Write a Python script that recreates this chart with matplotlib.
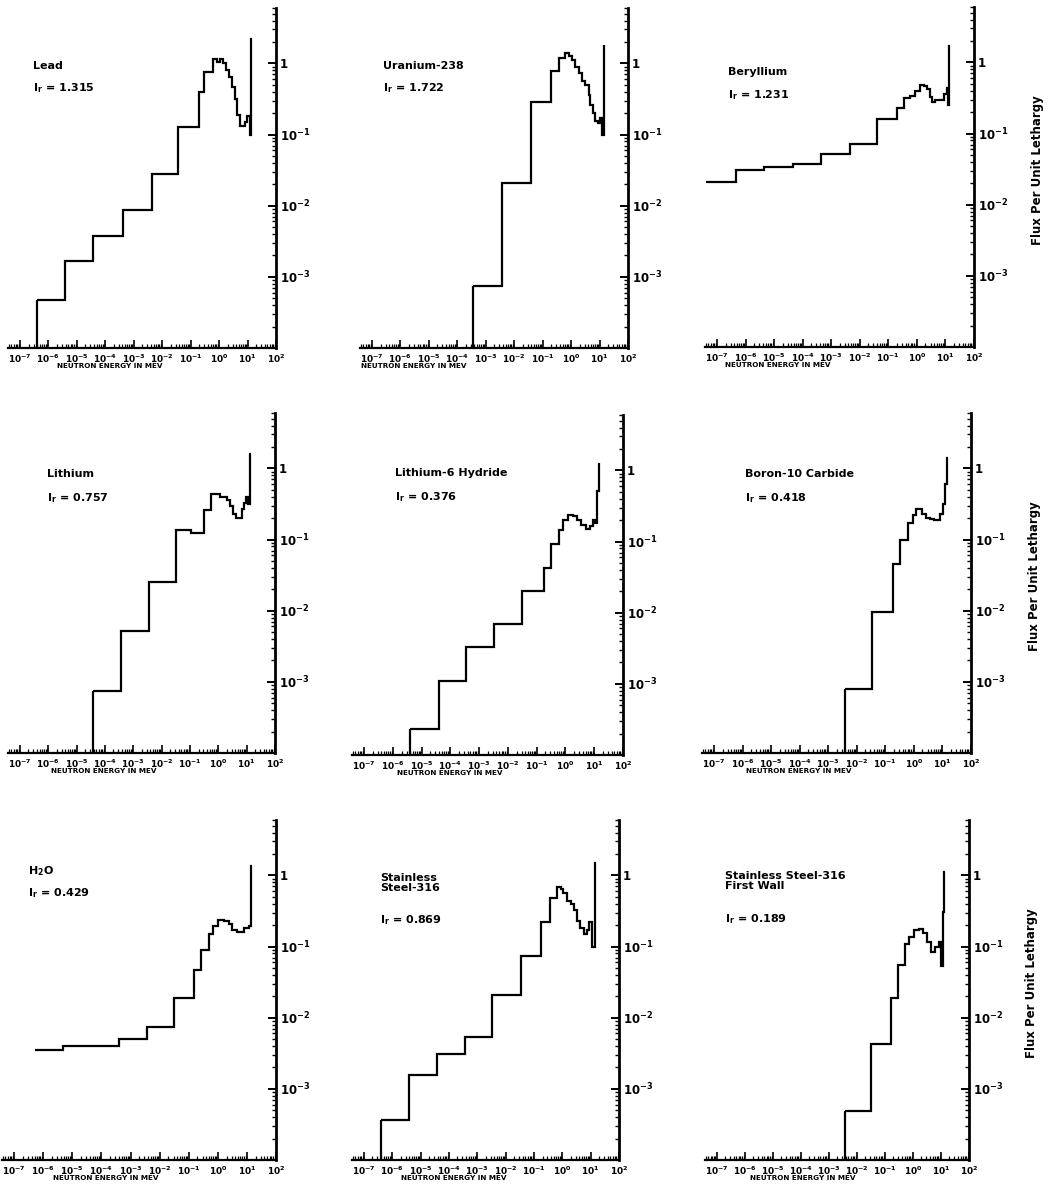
import numpy as np
import matplotlib
matplotlib.use("Agg")
import matplotlib.pyplot as plt
from matplotlib.ticker import FixedLocator, FixedFormatter, LogLocator, NullFormatter

plt.rcParams['font.family'] = ['DejaVu Sans']
plt.rcParams['font.weight'] = 'bold'
plt.rcParams['mathtext.default'] = 'bf'

# ---------------- data (log10 of energy-bin edges in MeV, flux per unit lethargy) -------------
titles = ["Lead", "Uranium-238", "Beryllium",
          "Lithium", "Lithium-6 Hydride", "Boron-10 Carbide",
          "H$_2$O", "Stainless\nSteel-316", "Stainless Steel-316\nFirst Wall"]
ir_values = ["1.315", "1.722", "1.231", "0.757", "0.376", "0.418", "0.429", "0.869", "0.189"]

lead_logE = [-6.39, -5.42, -4.42, -3.37, -2.37, -1.43, -0.70, -0.53, -0.20, -0.08, 0.03, 0.13,
             0.24, 0.36, 0.44, 0.56, 0.64, 0.74, 0.91, 0.99, 1.07, 1.12, 1.15]
lead_flux = [4.8e-4, 1.66e-3, 3.8e-3, 8.6e-3, 0.028, 0.128, 0.39, 0.76, 1.17, 1.06, 1.14, 1.0,
             0.81, 0.65, 0.47, 0.32, 0.19, 0.13, 0.15, 0.18, 0.10, 2.2]

u238_logE = [-3.46, -2.43, -1.41, -0.69, -0.43, -0.20, -0.08, 0.03, 0.15, 0.27, 0.39, 0.50,
             0.62, 0.68, 0.76, 0.85, 0.95, 1.02, 1.10, 1.14, 1.17]
u238_flux = [7.5e-4, 0.021, 0.29, 0.78, 1.2, 1.42, 1.28, 1.11, 0.90, 0.73, 0.56, 0.49,
             0.36, 0.26, 0.20, 0.155, 0.147, 0.17, 0.10, 1.8]

be_logE = [-7.38, -6.35, -5.35, -4.35, -3.35, -2.35, -1.41, -0.71, -0.44, -0.24, -0.06, 0.12,
           0.24, 0.35, 0.47, 0.53, 0.65, 0.82, 0.95, 1.05, 1.09, 1.13, 1.16]
be_flux = [0.021, 0.031, 0.034, 0.037, 0.051, 0.072, 0.16, 0.23, 0.32, 0.34, 0.40, 0.48,
           0.46, 0.42, 0.33, 0.28, 0.30, 0.30, 0.36, 0.43, 0.25, 1.7]

li_logE = [-4.42, -3.45, -2.46, -1.49, -0.95, -0.52, -0.25, 0.05, 0.29, 0.41, 0.52, 0.62,
           0.82, 0.90, 0.97, 1.06, 1.12, 1.15]
li_flux = [7.4e-4, 5.1e-3, 0.025, 0.135, 0.125, 0.26, 0.43, 0.40, 0.36, 0.30, 0.23, 0.20,
           0.27, 0.33, 0.40, 0.32, 1.6]

lih_logE = [-5.41, -4.41, -3.46, -2.49, -1.50, -0.76, -0.52, -0.23, -0.10, 0.08, 0.25, 0.39,
            0.54, 0.71, 0.85, 0.94, 1.03, 1.08, 1.15, 1.18]
lih_flux = [2.3e-4, 1.1e-3, 3.3e-3, 6.9e-3, 0.020, 0.043, 0.091, 0.143, 0.20, 0.235, 0.23, 0.20,
            0.17, 0.15, 0.165, 0.20, 0.18, 0.51, 1.27]

b4c_logE = [-2.42, -1.45, -0.73, -0.48, -0.19, -0.02, 0.07, 0.30, 0.44, 0.55, 0.72, 0.92,
            1.01, 1.10, 1.15, 1.18]
b4c_flux = [8e-4, 9.5e-3, 0.045, 0.098, 0.17, 0.22, 0.265, 0.23, 0.20, 0.195, 0.19, 0.23,
            0.32, 0.6, 1.4]

h2o_logE = [-6.28, -5.33, -3.40, -2.45, -1.51, -0.81, -0.58, -0.30, -0.18, -0.01, 0.22, 0.39,
            0.50, 0.67, 0.90, 1.07, 1.15, 1.18]
h2o_flux = [3.5e-3, 4.0e-3, 5.0e-3, 7.5e-3, 0.019, 0.047, 0.09, 0.15, 0.195, 0.233, 0.23, 0.21,
            0.17, 0.16, 0.18, 0.195, 1.35]

ss_logE = [-6.39, -5.40, -4.43, -3.44, -2.47, -1.47, -0.76, -0.43, -0.20, -0.06, 0.03, 0.17,
           0.31, 0.40, 0.51, 0.63, 0.77, 0.86, 0.95, 1.05, 1.15, 1.18]
ss_flux = [3.7e-4, 1.56e-3, 3.1e-3, 5.4e-3, 0.021, 0.074, 0.22, 0.48, 0.69, 0.64, 0.56, 0.43,
           0.39, 0.33, 0.23, 0.18, 0.15, 0.17, 0.22, 0.10, 1.5]

fw_logE = [-2.42, -1.49, -0.79, -0.54, -0.28, -0.13, 0.04, 0.22, 0.37, 0.51, 0.65, 0.80,
           0.93, 1.00, 1.06, 1.12, 1.16]
fw_flux = [4.9e-4, 4.2e-3, 0.019, 0.055, 0.107, 0.134, 0.172, 0.176, 0.156, 0.116, 0.085, 0.10,
           0.115, 0.053, 0.31, 1.1]

series_logE = [lead_logE, u238_logE, be_logE, li_logE, lih_logE, b4c_logE, h2o_logE, ss_logE, fw_logE]
series_flux = [lead_flux, u238_flux, be_flux, li_flux, lih_flux, b4c_flux, h2o_flux, ss_flux, fw_flux]
starts_from_axis = [True, True, False, True, True, True, False, True, True]

x_tick_values = [1e-7, 1e-6, 1e-5, 1e-4, 1e-3, 1e-2, 1e-1, 1e0, 1e1, 1e2]
x_tick_labels = ["$10^{-7}$", "$10^{-6}$", "$10^{-5}$", "$10^{-4}$", "$10^{-3}$",
                 "$10^{-2}$", "$10^{-1}$", "$10^{0}$", "$10^{1}$", "$10^{2}$"]
y_tick_values = [1e-4, 1e-3, 1e-2, 1e-1, 1.0]
y_tick_labels = ["", "$10^{-3}$", "$10^{-2}$", "$10^{-1}$", "1"]

xlabel_text = "NEUTRON ENERGY IN MEV"
ylabel_text = "Flux Per Unit Lethargy"

# ---------------- layout (pixel boxes: left, right, bottom) ----------------
W, H = 1054, 1194
boxes = [(8, 276, 348), (360, 628, 348), (705, 974, 347),
         (8, 275, 753), (352, 623, 755), (702, 971, 753),
         (2, 276, 1160), (352, 619, 1160), (705, 969, 1160)]
panel_h = 340
title_pos = [(0.093, 0.83), (0.086, 0.83), (0.085, 0.81),
             (0.146, 0.82), (0.16, 0.83), (0.16, 0.82),
             (0.095, 0.85), (0.105, 0.815), (0.076, 0.82)]
ir_pos = [0.765, 0.765, 0.74, 0.75, 0.76, 0.75, 0.785, 0.706, 0.71]
xlabel_x = [0.38, 0.2, 0.27, 0.36, 0.36, 0.36, 0.38, 0.38, 0.37]

XLIM = (10 ** -7.42, 100)
YLIM = (1e-4, 6.0)
minor_subs = np.arange(2, 10)

fig = plt.figure(figsize=(W / 100, H / 100), dpi=100)
fig.patch.set_facecolor('white')

for i in range(9):
    l, r, b = boxes[i]
    ax = fig.add_axes([l / W, (H - b) / H, (r - l) / W, panel_h / H])
    ax.set_xscale('log')
    ax.set_yscale('log')
    ax.set_xlim(*XLIM)
    ax.set_ylim(*YLIM)

    edges = 10 ** np.asarray(series_logE[i])
    flux = np.asarray(series_flux[i])
    ax.stairs(flux, edges, baseline=None, color='black', lw=1.6)
    if starts_from_axis[i]:
        ax.vlines(edges[0], YLIM[0], flux[0], color='black', lw=1.6)

    for s in ('left', 'top'):
        ax.spines[s].set_visible(False)
    ax.spines['right'].set_linewidth(2.0)
    ax.spines['bottom'].set_linewidth(1.6)

    ax.xaxis.set_major_locator(FixedLocator(x_tick_values))
    ax.xaxis.set_major_formatter(FixedFormatter(x_tick_labels))
    ax.xaxis.set_minor_locator(LogLocator(base=10, subs=minor_subs, numticks=100))
    ax.xaxis.set_minor_formatter(NullFormatter())

    ax.yaxis.tick_right()
    ax.yaxis.set_major_locator(FixedLocator(y_tick_values))
    ax.yaxis.set_major_formatter(FixedFormatter(y_tick_labels))
    ax.yaxis.set_minor_locator(LogLocator(base=10, subs=minor_subs, numticks=100))
    ax.yaxis.set_minor_formatter(NullFormatter())

    ax.tick_params(axis='x', which='major', direction='in', length=6, width=1.2,
                   labelsize=6.5, pad=3, top=False)
    ax.tick_params(axis='x', which='minor', direction='in', length=3, width=0.9, top=False)
    ax.tick_params(axis='y', which='major', direction='in', length=6, width=1.4,
                   labelsize=8.5, pad=3, left=False, right=True, labelleft=False, labelright=True)
    ax.tick_params(axis='y', which='minor', direction='in', length=3, width=1.0,
                   left=False, right=True)

    ax.set_xlabel(xlabel_text, fontsize=5.2, fontweight='bold', labelpad=1)
    ax.xaxis.set_label_coords(xlabel_x[i], -0.045)

    tx, ty = title_pos[i]
    ax.text(tx, ty, titles[i], transform=ax.transAxes, fontsize=8, fontweight='bold',
            ha='left', va='center', linespacing=1.0)
    ax.text(tx, ir_pos[i], "I$_r$ = " + ir_values[i], transform=ax.transAxes,
            fontsize=8, fontweight='bold', ha='left', va='center')

    if i % 3 == 2:
        ax.text(1.235, 0.52, ylabel_text, transform=ax.transAxes, rotation=90,
                fontsize=8.5, fontweight='bold', ha='center', va='center')

fig.savefig("out.png", dpi=100, facecolor='white')
